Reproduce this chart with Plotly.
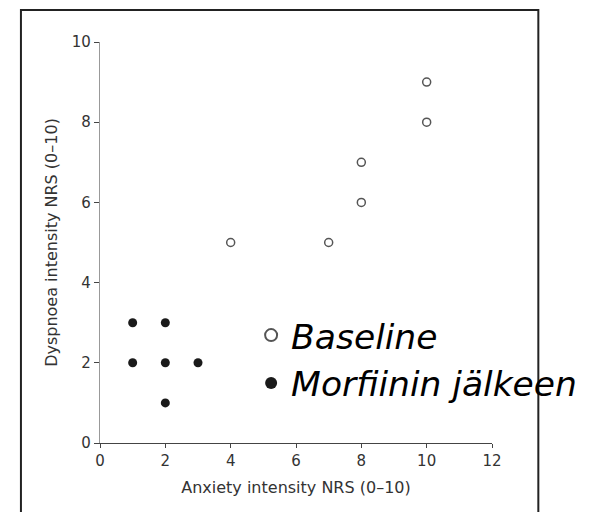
import plotly.graph_objects as go

# Data
baseline_anxiety = [4, 7, 8, 8, 10, 10]
baseline_dyspnoea = [5, 5, 6, 7, 8, 9]
morphine_anxiety = [1, 2, 1, 2, 3, 2]
morphine_dyspnoea = [3, 3, 2, 2, 2, 1]
x_ticks = [0, 2, 4, 6, 8, 10, 12]
y_ticks = [0, 2, 4, 6, 8, 10]
series_names = ["Baseline", "Morfiinin jälkeen"]

W, H = 590, 512
L, R, T, B = 100, 590 - 491.7, 42, 512 - 442.7
pw, ph = W - L - R, H - T - B

def px_x(p):
    return (p - L) / pw

def px_y(p):
    return (H - B - p) / ph

fig = go.Figure()
fig.add_trace(go.Scatter(
    x=baseline_anxiety, y=baseline_dyspnoea, mode="markers", name=series_names[0],
    marker=dict(symbol="circle-open", size=8, color="#555555", line=dict(width=1.5, color="#555555")),
))
fig.add_trace(go.Scatter(
    x=morphine_anxiety, y=morphine_dyspnoea, mode="markers", name=series_names[1],
    marker=dict(symbol="circle", size=9, color="#1a1a1a"),
))

font_family = "DejaVu Sans"
fig.update_layout(
    width=W, height=H, autosize=False,
    margin=dict(l=L, r=R, t=T, b=B, autoexpand=False),
    paper_bgcolor="white", plot_bgcolor="white",
    showlegend=True,
    legend=dict(
        x=px_x(251), y=px_y(306), xanchor="left", yanchor="top",
        bgcolor="rgba(0,0,0,0)", borderwidth=0,
        font=dict(family=font_family, size=34.5, color="#000000", style="italic"),
        itemsizing="constant", tracegroupgap=0,
    ),
    xaxis=dict(
        range=[0, 12], tickvals=x_ticks, showgrid=False, zeroline=False,
        showline=True, linecolor="#444444", linewidth=1.2,
        ticks="outside", ticklen=4, tickcolor="#444444", tickwidth=1,
        tickfont=dict(family=font_family, size=15, color="#333333"),
        title=dict(text="Anxiety intensity NRS (0–10)", standoff=12,
                   font=dict(family=font_family, size=16, color="#333333")),
        automargin=False,
    ),
    yaxis=dict(
        range=[0, 10], tickvals=y_ticks, showgrid=False, zeroline=False,
        showline=True, linecolor="#999999", linewidth=1.2,
        ticks="outside", ticklen=5, tickcolor="#444444", tickwidth=1,
        tickfont=dict(family=font_family, size=15, color="#333333"),
        title=dict(text="Dyspnoea intensity NRS (0–10)", standoff=10,
                   font=dict(family=font_family, size=16, color="#333333")),
        automargin=False,
    ),
    shapes=[dict(
        type="rect", xref="paper", yref="paper",
        x0=px_x(21), x1=px_x(538), y0=px_y(525), y1=px_y(10),
        line=dict(color="#222222", width=2), fillcolor="rgba(0,0,0,0)", layer="above",
    )],
)

fig.write_html("out.html", config={"displayModeBar": False},
               post_script="document.body.style.margin='0';")
